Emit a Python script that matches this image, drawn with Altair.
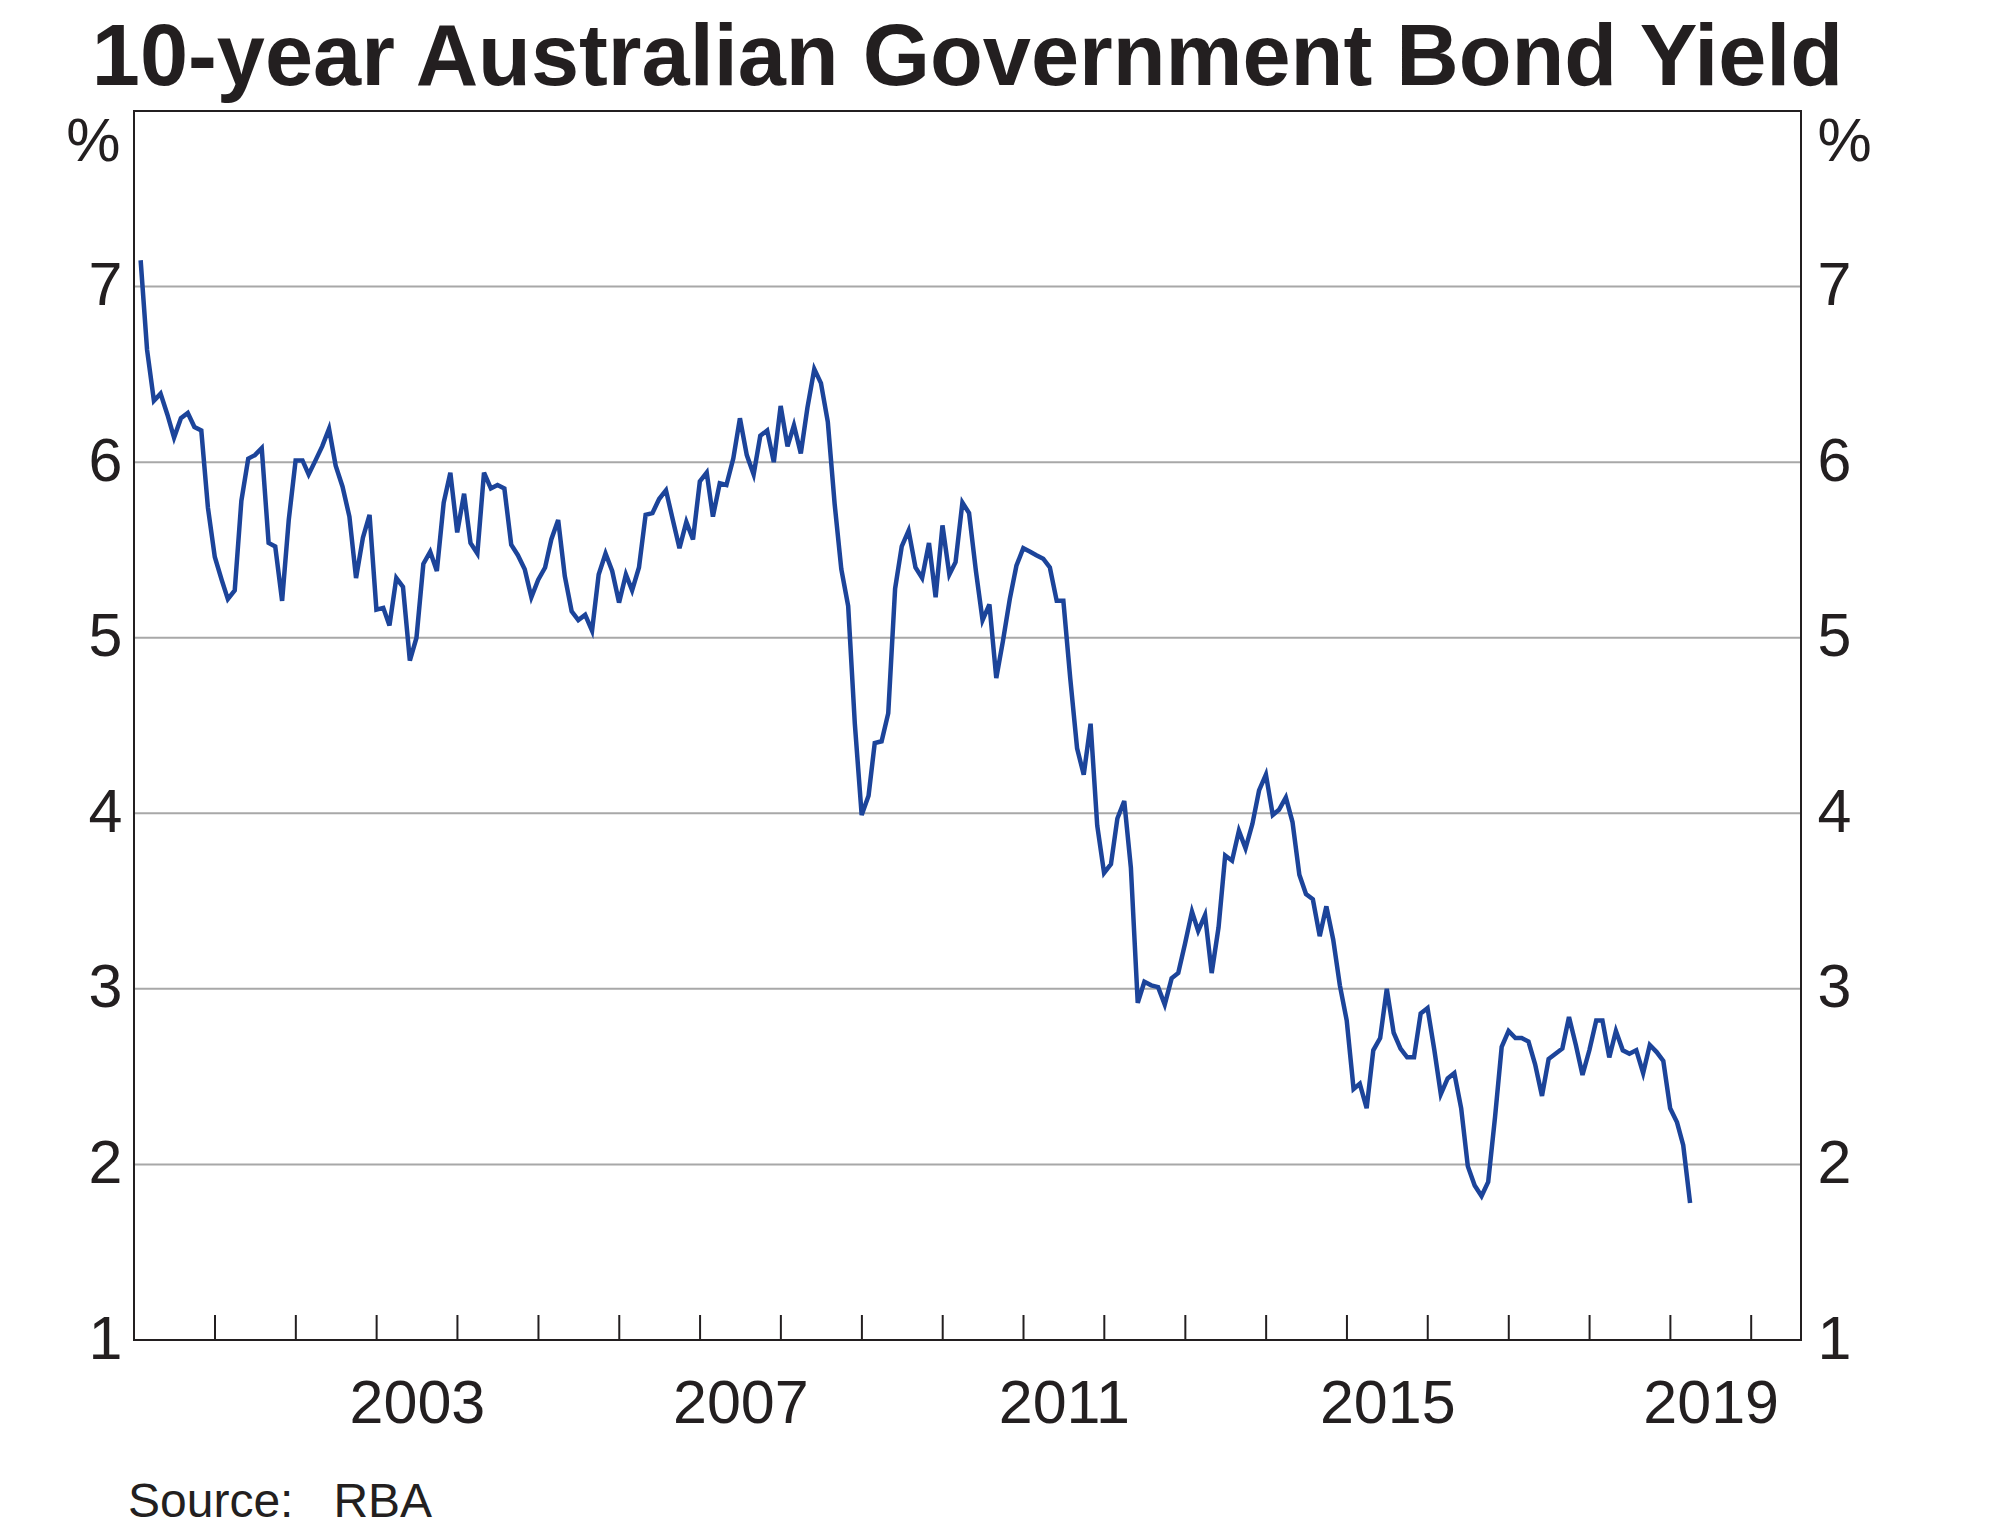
import altair as alt
import pandas as pd

y2000 = [7.15, 6.64, 6.35, 6.39, 6.27, 6.14, 6.25, 6.28, 6.20, 6.18, 5.74, 5.46]
y2001 = [5.33, 5.22, 5.27, 5.78, 6.02, 6.04, 6.08, 5.54, 5.52, 5.21, 5.67, 6.01]
y2002 = [6.01, 5.93, 6.01, 6.09, 6.19, 5.98, 5.86, 5.69, 5.34, 5.57, 5.70, 5.16]
y2003 = [5.17, 5.07, 5.34, 5.29, 4.87, 5.00, 5.42, 5.49, 5.38, 5.77, 5.94, 5.60]
y2004 = [5.82, 5.54, 5.48, 5.94, 5.85, 5.87, 5.85, 5.53, 5.47, 5.39, 5.23, 5.33]
y2005 = [5.40, 5.56, 5.67, 5.35, 5.15, 5.10, 5.13, 5.04, 5.36, 5.48, 5.38, 5.20]
y2006 = [5.36, 5.27, 5.40, 5.70, 5.71, 5.79, 5.84, 5.67, 5.51, 5.66, 5.56, 5.89]
y2007 = [5.94, 5.69, 5.88, 5.87, 6.02, 6.25, 6.04, 5.93, 6.15, 6.18, 6.00, 6.32]
y2008 = [6.09, 6.21, 6.05, 6.31, 6.53, 6.45, 6.23, 5.76, 5.39, 5.18, 4.51, 3.99]
y2009 = [4.10, 4.40, 4.41, 4.57, 5.28, 5.52, 5.61, 5.40, 5.34, 5.54, 5.23, 5.64]
y2010 = [5.36, 5.43, 5.77, 5.71, 5.38, 5.10, 5.19, 4.77, 4.98, 5.22, 5.41, 5.51]
y2011 = [5.49, 5.47, 5.45, 5.40, 5.21, 5.21, 4.77, 4.37, 4.22, 4.51, 3.93, 3.66]
y2012 = [3.71, 3.97, 4.07, 3.69, 2.92, 3.04, 3.02, 3.01, 2.91, 3.06, 3.09, 3.26]
y2013 = [3.44, 3.33, 3.42, 3.09, 3.35, 3.76, 3.73, 3.90, 3.80, 3.94, 4.13, 4.22]
y2014 = [3.99, 4.02, 4.09, 3.95, 3.65, 3.54, 3.51, 3.30, 3.47, 3.28, 3.02, 2.82]
y2015 = [2.43, 2.46, 2.32, 2.65, 2.72, 3.00, 2.75, 2.66, 2.61, 2.61, 2.86, 2.89]
y2016 = [2.65, 2.40, 2.49, 2.52, 2.32, 1.99, 1.88, 1.82, 1.90, 2.27, 2.67, 2.76]
y2017 = [2.72, 2.72, 2.70, 2.57, 2.39, 2.60, 2.63, 2.66, 2.84, 2.68, 2.51, 2.65]
y2018 = [2.82, 2.82, 2.61, 2.76, 2.65, 2.63, 2.65, 2.52, 2.68, 2.64, 2.59, 2.32]
y2019 = [2.24, 2.11, 1.78]

yields = (y2000 + y2001 + y2002 + y2003 + y2004 + y2005 + y2006 + y2007 + y2008
          + y2009 + y2010 + y2011 + y2012 + y2013 + y2014 + y2015 + y2016
          + y2017 + y2018 + y2019)

y_ticks = [1, 2, 3, 4, 5, 6, 7]
grid_levels = [2, 3, 4, 5, 6, 7]
label_years = [2003, 2007, 2011, 2015, 2019]
tick_years = list(range(2001, 2021))

TITLE = "10-year Australian Government Bond Yield"
SOURCE = "Source:\u00a0\u00a0\u00a0RBA"

starts = pd.date_range("2000-01-01", periods=len(yields), freq="MS")
ends = starts + pd.offsets.MonthEnd(0)
df = pd.DataFrame({"date": ends.strftime("%Y-%m-%d"), "yield": yields})
grid_df = pd.DataFrame({"level": grid_levels})
tick_df = pd.DataFrame({"date": [f"{y}-01-01" for y in tick_years]})
src_df = pd.DataFrame({"t": [SOURCE]})
title_df = pd.DataFrame({"t": [TITLE]})

W, H = 1667, 1229
FONT = "Liberation Sans"
TXT = "#231f20"
LINE = "#1c449a"
GRID = "#a8a8a8"

xscale = alt.Scale(
    type="utc",
    domain=[alt.DateTime(year=2000, month=1, date=1, utc=True),
            alt.DateTime(year=2020, month=8, date=13, utc=True)],
)
xaxis = alt.Axis(
    values=[alt.DateTime(year=y, month=7, date=2, utc=True) for y in label_years],
    labelExpr="utcFormat(datum.value, '%Y')",
    ticks=False, domain=False, grid=False, title=None,
    labelFontSize=61, labelFont=FONT, labelColor=TXT, labelPadding=34,
    labelFlush=False, labelOverlap=False, labelBound=False,
)
xenc = alt.X("date:T", scale=xscale, axis=xaxis)

yscale = alt.Scale(domain=[1, 8], nice=False, zero=False)


def yaxis(orient):
    left = orient == "left"
    return alt.Axis(
        orient=orient, values=y_ticks, ticks=False, tickSize=0, domain=False,
        grid=False, labelFontSize=61, labelFont=FONT, labelColor=TXT,
        labelPadding=12 if left else 16, labelBaseline="middle",
        labelAlign="right" if left else "left",
        labelOverlap=False, labelBound=False, labelFlush=False,
        title="%", titleAngle=0, titleFontSize=61, titleFont=FONT,
        titleFontWeight="normal", titleColor=TXT,
        titleX=-14 if left else 16, titleY=31,
        titleAlign="right" if left else "left", titleBaseline="middle",
    )


grid = alt.Chart(grid_df).mark_rule(color=GRID, strokeWidth=2).encode(
    y=alt.Y("level:Q", scale=yscale, axis=yaxis("right")),
    x=alt.value(1), x2=alt.value(W - 1),
)

line = alt.Chart(df).mark_line(color=LINE, strokeWidth=4.5).encode(
    x=xenc,
    y=alt.Y("yield:Q", scale=yscale, axis=yaxis("left")),
)

ticks = alt.Chart(tick_df).mark_rule(color=TXT, strokeWidth=2).encode(
    x=xenc, y=alt.value(H), y2=alt.value(H - 25),
)

source = alt.Chart(src_df).mark_text(
    align="left", baseline="alphabetic", fontSize=48, font=FONT, color=TXT
).encode(text="t:N", x=alt.value(-6), y=alt.value(H + 177))

title = alt.Chart(title_df).mark_text(
    align="center", baseline="alphabetic", fontSize=86.5, font=FONT,
    fontWeight="bold", color=TXT
).encode(text="t:N", x=alt.value(W / 2), y=alt.value(-26))

chart = (
    alt.layer(grid, line, ticks, source, title)
    .resolve_scale(y="independent")
    .properties(
        width=W, height=H,
        autosize=alt.AutoSizeParams(type="none"),
        padding={"left": 126, "top": 103, "right": 150, "bottom": 190},
    )
    .configure(background="white")
    .configure_view(stroke=TXT, strokeWidth=2)
)

chart.save("out.html", embed_options={"renderer": "svg", "actions": False})
